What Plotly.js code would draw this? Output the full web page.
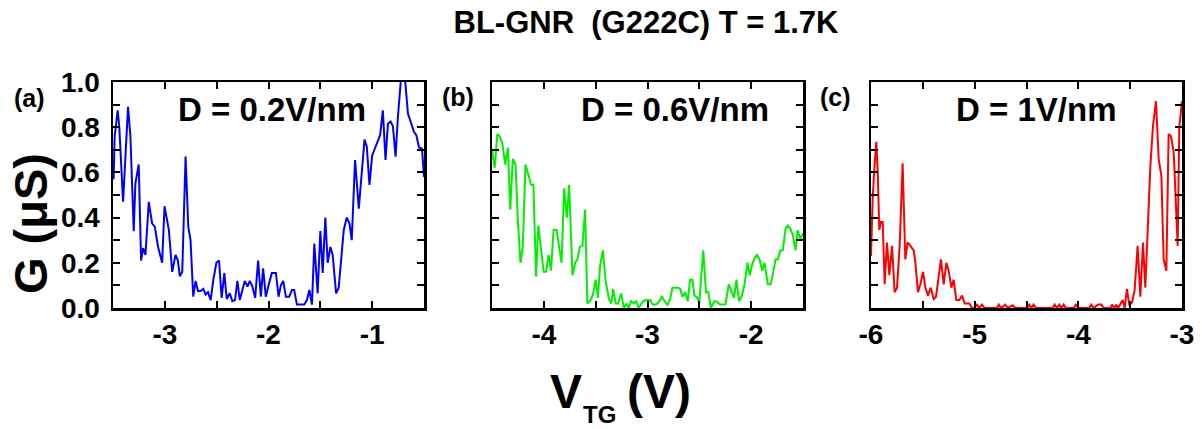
<!DOCTYPE html>
<html>
<head>
<meta charset="utf-8">
<script src="https://cdn.plot.ly/plotly-3.0.1.min.js"></script>
<style>html,body{margin:0;padding:0;background:#fff;}#chart{width:1202px;height:429px;}</style>
</head>
<body>
<div id="chart"></div>
<script>
// Panel (a): D = 0.2 V/nm
var vtgA = [-3.494,-3.484,-3.455,-3.439,-3.403,-3.355,-3.332,-3.300,-3.284,-3.252,-3.229,-3.210,-3.187,-3.155,-3.123,-3.097,-3.065,-3.026,-3.003,-2.961,-2.929,-2.897,-2.874,-2.855,-2.832,-2.800,-2.774,-2.752,-2.726,-2.703,-2.681,-2.655,-2.629,-2.606,-2.584,-2.558,-2.532,-2.503,-2.477,-2.452,-2.426,-2.403,-2.374,-2.348,-2.323,-2.300,-2.277,-2.252,-2.229,-2.203,-2.181,-2.155,-2.129,-2.100,-2.074,-2.052,-2.026,-2.000,
  -1.968,-1.929,-1.903,-1.881,-1.858,-1.832,-1.800,-1.774,-1.752,-1.726,-1.687,-1.655,-1.629,-1.606,-1.581,-1.558,-1.526,-1.500,-1.477,-1.452,-1.429,-1.403,-1.381,-1.348,-1.323,-1.274,-1.245,-1.219,-1.197,-1.165,-1.129,-1.074,-1.052,-1.026,-1.000,-0.961,-0.939,-0.923,-0.897,-0.871,-0.848,-0.823,-0.800,-0.774,-0.752,-0.703,-0.655,-0.623,-0.597,-0.574,-0.548,-0.519,-0.500];
var gA = [0.57,0.76,0.875,0.80,0.47,0.89,0.76,0.34,0.55,0.635,0.21,0.265,0.235,0.47,0.375,0.36,0.27,0.20,0.45,0.345,0.16,0.235,0.21,0.14,0.16,0.67,0.36,0.30,0.05,0.12,0.075,0.075,0.085,0.06,0.07,0.035,0.125,0.20,0.21,0.045,0.155,0.04,0.065,0.03,0.035,0.12,0.035,0.075,0.12,0.095,0.12,0.095,0.045,0.21,0.05,0.175,0.05,0.10,
  0.155,0.155,0.05,0.10,0.12,0.05,0.05,0.08,0.08,0.015,0.015,0.015,0.035,0.08,0.015,0.285,0.065,0.34,0.155,0.40,0.20,0.27,0.235,0.065,0.09,0.345,0.40,0.375,0.30,0.655,0.44,0.745,0.715,0.545,0.675,0.72,0.75,0.765,0.875,0.655,0.815,0.825,0.805,0.67,0.845,1.12,0.86,0.815,0.78,0.765,0.71,0.705,0.58];

// Panel (b): D = 0.6 V/nm
var vtgB = [-4.500,-4.474,-4.449,-4.427,-4.401,-4.372,-4.347,-4.324,-4.299,-4.273,-4.251,-4.225,-4.203,-4.177,-4.149,-4.123,-4.101,-4.075,-4.053,-4.027,-4.002,-3.979,-3.954,-3.931,-3.906,-3.877,-3.851,-3.829,-3.804,-3.778,-3.756,-3.724,-3.698,-3.676,-3.653,-3.628,-3.602,-3.580,-3.554,-3.526,-3.500,-3.478,-3.458,-3.430,-3.404,-3.372,-3.350,-3.331,-3.308,-3.283,-3.254,-3.228,-3.203,-3.181,-3.158,-3.133,-3.110,-3.085,-3.053,-3.021,-2.989,
  -2.973,-2.950,-2.919,-2.893,-2.861,-2.835,-2.807,-2.781,-2.759,-2.733,-2.708,-2.685,-2.663,-2.637,-2.612,-2.589,-2.567,-2.548,-2.526,-2.500,-2.462,-2.436,-2.414,-2.388,-2.356,-2.334,-2.302,-2.248,-2.216,-2.190,-2.165,-2.142,-2.117,-2.088,-2.062,-2.037,-2.014,-1.989,-1.966,-1.944,-1.919,-1.893,-1.871,-1.839,-1.813,-1.791,-1.765,-1.743,-1.717,-1.695,-1.669,-1.647,-1.621,-1.599,-1.573,-1.551,-1.526,-1.500];
var gB = [0.695,0.62,0.77,0.76,0.73,0.635,0.71,0.435,0.66,0.635,0.39,0.20,0.27,0.635,0.59,0.545,0.545,0.14,0.365,0.255,0.16,0.16,0.235,0.165,0.345,0.345,0.26,0.20,0.53,0.40,0.545,0.145,0.20,0.215,0.27,0.275,0.435,0.02,0.03,0.06,0.125,0.045,0.185,0.255,0.12,0.04,0.02,0.085,0.02,0.02,0.065,0.0,0.02,0.0,0.03,0.02,0.03,0.0,0.025,0.035,0.035,
  0.035,0.015,0.015,0.025,0.05,0.03,0.015,0.04,0.09,0.09,0.09,0.085,0.05,0.07,0.03,0.125,0.125,0.055,0.05,0.025,0.255,0.07,0.07,0.0,0.03,0.03,0.015,0.015,0.105,0.075,0.045,0.125,0.03,0.055,0.11,0.20,0.145,0.195,0.22,0.235,0.215,0.165,0.20,0.105,0.105,0.15,0.215,0.215,0.255,0.255,0.35,0.365,0.35,0.325,0.255,0.345,0.305,0.33];

// Panel (c): D = 1 V/nm
var vtgC = [-6.000,-5.984,-5.968,-5.949,-5.936,-5.920,-5.904,-5.887,-5.868,-5.846,-5.823,-5.797,-5.772,-5.749,-5.723,-5.695,-5.669,-5.646,-5.621,-5.588,-5.572,-5.547,-5.524,-5.498,-5.476,-5.450,-5.424,-5.395,-5.373,-5.347,-5.325,-5.299,-5.273,-5.251,-5.225,-5.203,-5.177,-5.148,-5.122,-5.096,-5.051,-5.026,-5.003,-4.977,-4.955,-4.929,-4.904,-4.785,-4.768,-4.746,-4.704,-4.682,-4.633,-4.608,
  -4.495,-4.473,-4.453,-4.431,-4.408,-4.248,-4.228,-4.206,-4.183,-4.164,-4.141,-4.119,-4.045,-4.023,-3.997,-3.894,-3.875,-3.852,-3.810,-3.778,-3.756,-3.691,-3.675,-3.653,-3.633,-3.617,-3.595,-3.572,-3.553,-3.531,-3.508,-3.482,-3.457,-3.428,-3.402,-3.376,-3.354,-3.328,-3.305,-3.280,-3.251,-3.225,-3.199,-3.177,-3.151,-3.129,-3.106,-3.080,-3.058,-3.042,-3.026,-3.000];
var gC = [0.23,0.48,0.615,0.735,0.615,0.345,0.38,0.38,0.105,0.29,0.145,0.275,0.07,0.09,0.28,0.64,0.215,0.29,0.275,0.255,0.20,0.07,0.105,0.16,0.09,0.055,0.09,0.04,0.05,0.145,0.215,0.105,0.20,0.165,0.09,0.125,0.035,0.035,0.055,0.02,0.02,0.0,0.0,0.015,0.0,0.015,0.0,0.0,0.015,0.0,0.015,0.0,0.012,0.0,
  0,0.015,0,0.015,0,0,0.015,0,0.015,0,0.015,0,0,0.015,0,0,0.015,0,0.015,0.015,0,0,0.015,0,0.015,0,0.02,0.035,0,0.085,0.012,0.025,0.078,0.275,0.05,0.29,0.09,0.41,0.63,0.805,0.915,0.66,0.585,0.215,0.165,0.77,0.76,0.69,0.41,0.275,0.80,0.915];

var xRangeA = [-3.5, -0.5], xRangeB = [-4.5, -1.5], xRangeC = [-6, -3];
var yRange = [0, 1];
var xTickValsA = [-3, -2, -1], xTickTextA = ['-3', '-2', '-1'];
var xTickValsB = [-4, -3, -2], xTickTextB = ['-4', '-3', '-2'];
var xTickValsC = [-6, -5, -4, -3], xTickTextC = ['-6', '-5', '-4', '-3'];
var panelLabels = ['(a)', '(b)', '(c)'];
var fieldLabels = ['D = 0.2V/nm', 'D = 0.6V/nm', 'D = 1V/nm'];

var W = 1202, H = 429;
var tickFont = {family: 'Liberation Sans, Arial, sans-serif', size: 28, weight: 'bold', color: '#000'};

function xax(dom, range, vals, texts) {
  return {domain: dom, range: range, tickmode: 'array', tickvals: vals, ticktext: texts,
    ticks: 'inside', ticklen: 7, tickwidth: 2, tickcolor: '#000',
    minor: {dtick: 0.5, tick0: 0, ticks: 'inside', ticklen: 7, tickwidth: 2, tickcolor: '#000'},
    showline: true, linewidth: 2.5, linecolor: '#000', mirror: 'ticks', showgrid: false, zeroline: false,
    tickfont: tickFont, ticklabelstandoff: 0, fixedrange: true};
}
function yax(showLabels) {
  return {domain: [1 - 308 / H, 1 - 82 / H], range: yRange, dtick: 0.2, tick0: 0, tickformat: '.1f',
    ticks: 'inside', ticklen: 7, tickwidth: 2, tickcolor: '#000',
    minor: {dtick: 0.1, tick0: 0, ticks: 'inside', ticklen: 7, tickwidth: 2, tickcolor: '#000'},
    showline: true, linewidth: 2.5, linecolor: '#000', mirror: 'ticks', showgrid: false, zeroline: false,
    showticklabels: showLabels, tickfont: tickFont, ticklabelstandoff: 5, fixedrange: true};
}

var traces = [
  {x: vtgA, y: gA, xaxis: 'x', yaxis: 'y', mode: 'lines', line: {color: '#0000ff', width: 2}},
  {x: vtgB, y: gB, xaxis: 'x2', yaxis: 'y2', mode: 'lines', line: {color: '#00f000', width: 2}},
  {x: vtgC, y: gC, xaxis: 'x3', yaxis: 'y3', mode: 'lines', line: {color: '#ff0000', width: 2}}
];

function px(xp, yp, text, size, extra) {
  var a = {xref: 'paper', yref: 'paper', x: xp / W, y: 1 - yp / H, text: text, showarrow: false,
    xanchor: 'center', yanchor: 'middle',
    font: {family: 'Liberation Sans, Arial, sans-serif', size: size, weight: 'bold', color: '#000'}};
  if (extra) for (var k in extra) a[k] = extra[k];
  return a;
}

var annotations = [
  px(29, 98, panelLabels[0], 25),
  px(458, 97, panelLabels[1], 25),
  px(835, 97, panelLabels[2], 25),
  px(272, 110, fieldLabels[0], 33),
  px(675, 110, fieldLabels[1], 33),
  px(1036, 110, fieldLabels[2], 33),
  px(30, 224, 'G (μS)', 47, {textangle: -90}),
  px(566, 391, 'V', 48),
  px(599, 414, 'TG', 24, {height: 26}),
  px(659, 391, '(V)', 48)
];

var layout = {
  width: W, height: H, margin: {l: 0, r: 0, t: 0, b: 0}, showlegend: false,
  paper_bgcolor: '#fff', plot_bgcolor: '#fff',
  title: {text: 'BL-GNR  (G222C) T = 1.7K', x: 646 / W, xanchor: 'center', y: 1 - 22 / H, yanchor: 'middle',
    font: {family: 'Liberation Sans, Arial, sans-serif', size: 31, weight: 'bold', color: '#000'}},
  xaxis: xax([113 / W, 424 / W], xRangeA, xTickValsA, xTickTextA), yaxis: yax(true),
  xaxis2: xax([492 / W, 803 / W], xRangeB, xTickValsB, xTickTextB), yaxis2: yax(false),
  xaxis3: xax([871 / W, 1182 / W], xRangeC, xTickValsC, xTickTextC), yaxis3: yax(false),
  annotations: annotations
};
layout.xaxis.anchor = 'y'; layout.yaxis.anchor = 'x';
layout.xaxis2.anchor = 'y2'; layout.yaxis2.anchor = 'x2';
layout.xaxis3.anchor = 'y3'; layout.yaxis3.anchor = 'x3';

Plotly.newPlot('chart', traces, layout, {staticPlot: true, displayModeBar: false});
</script>
</body>
</html>
